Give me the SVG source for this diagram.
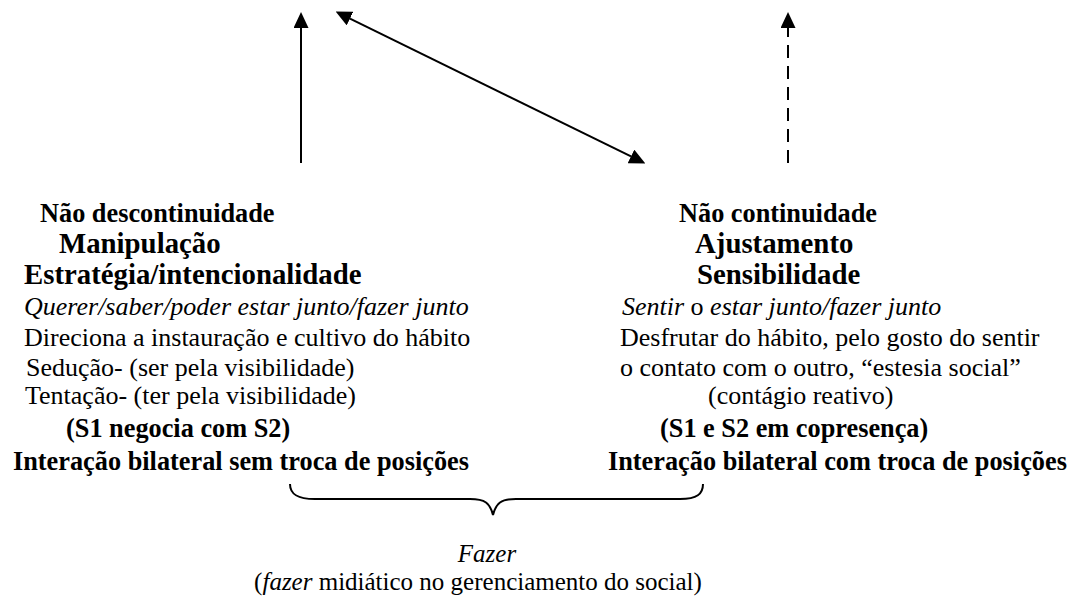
<svg xmlns="http://www.w3.org/2000/svg" width="1081" height="599" viewBox="0 0 1081 599" font-family="'Liberation Serif', 'DejaVu Serif', serif">
<defs>
<marker id="ah" markerUnits="userSpaceOnUse" markerWidth="16" markerHeight="15" refX="0" refY="7.5" orient="auto-start-reverse" viewBox="0 0 16 15">
<path d="M0,0 L16,7.5 L0,15 z" fill="#000"/>
</marker>
<style>
text{font-family:'Liberation Serif','DejaVu Serif',serif;fill:#000}
.r{font-size:26px}
.s{font-size:25px}
.b{font-size:26.3px;font-weight:bold}
.h{font-size:28.8px;font-weight:bold}
.i{font-style:italic}
.ln{stroke:#000;stroke-width:2;fill:none}
</style>
</defs>
<rect width="1081" height="599" fill="#fff"/>
<g id="connectors">
<line class="ln" x1="301" y1="163" x2="301" y2="28" marker-end="url(#ah)"/>
<line class="ln" x1="350" y1="18.6" x2="631" y2="156.4" marker-start="url(#ah)" marker-end="url(#ah)"/>
<line class="ln" x1="788" y1="163" x2="788" y2="28" stroke-dasharray="13 8" marker-end="url(#ah)"/>
<path id="brace" class="ln" d="M290,484 C290,494 297,499 315,499 L470,499 C485,499 490,503 493,515 C496,503 501,499 516,499 L680,499 C697,499 703,494 703,484"/>
</g>
<g id="node-left">
<text class="b" x="40" y="222">Não descontinuidade</text>
<text class="h" x="59" y="253">Manipulação</text>
<text class="h" x="24" y="284">Estratégia/intencionalidade</text>
<text class="r i" x="24" y="315">Querer/saber/poder estar junto/fazer junto</text>
<text class="r" x="24" y="346">Direciona a instauração e cultivo do hábito</text>
<text class="r" x="26" y="376">Sedução- (ser pela visibilidade)</text>
<text class="r" x="25" y="404">Tentação- (ter pela visibilidade)</text>
<text class="b" x="66" y="437">(S1 negocia com S2)</text>
<text class="b" x="13" y="470">Interação bilateral sem troca de posições</text>
</g>
<g id="node-right">
<text class="b" x="679" y="222">Não continuidade</text>
<text class="h" x="695" y="253">Ajustamento</text>
<text class="h" x="697" y="284">Sensibilidade</text>
<text class="r" x="622" y="315"><tspan class="i">Sentir</tspan> o <tspan class="i">estar junto/fazer junto</tspan></text>
<text class="r" x="620" y="346">Desfrutar do hábito, pelo gosto do sentir</text>
<text class="r" x="620" y="376">o contato com o outro, “estesia social”</text>
<text class="r" x="708" y="404">(contágio reativo)</text>
<text class="b" x="660" y="437">(S1 e S2 em copresença)</text>
<text class="b" x="608" y="470">Interação bilateral com troca de posições</text>
</g>
<g id="node-bottom">
<text class="s i" x="487" y="562" text-anchor="middle">Fazer</text>
<text class="s" x="478" y="590" text-anchor="middle">(<tspan class="i">fazer</tspan> midiático no gerenciamento do social)</text>
</g>
</svg>
